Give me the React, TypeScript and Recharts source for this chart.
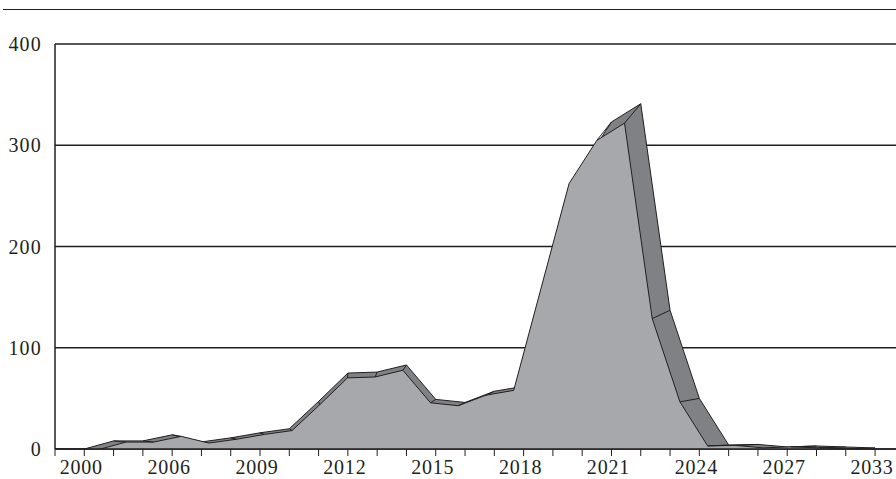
import React from 'react';
import { ComposedChart, Area, XAxis, YAxis, CartesianGrid } from 'recharts';

// categories (only every third one carries a label on the axis)
const years = [
  '1999', '2000', '2002', '2004', '2006', '2007', '2008', '2009', '2010', '2011',
  '2012', '2013', '2014', '2015', '2016', '2017', '2018', '2019', '2020', '2021',
  '2022', '2023', '2024', '2025', '2026', '2027', '2029', '2031', '2033',
];
const counts = [
  0, 0, 8, 8, 14, 7, 11, 16, 20, 47,
  75, 76, 83, 49, 46, 57, 62, 170, 278, 323,
  341, 137, 50, 4, 4.5, 2, 3, 2, 1,
];
const yTicks = [0, 100, 200, 300, 400];

const INK = '#231F20';
const FRONT = '#A7A8AB';
const TOP = '#808184';
const FONT = '"Liberation Serif", "Times New Roman", serif';

const W = 919;
const H = 479;
const PLOT = { left: 55, top: 44, width: 864, height: 405 };
const X_MAX = 29.5;
const Y_MAX = 400;

// 3D look: the front face is the back face shrunk toward a vanishing point
const DEPTH = { s: 0.946, vx: 340, vy: 463 };

const bottom = PLOT.top + PLOT.height;
const fx0 = ((1 - DEPTH.s) * (PLOT.left - DEPTH.vx) * X_MAX) / (DEPTH.s * PLOT.width);
const frontX: [number, number] = [fx0, fx0 + X_MAX / DEPTH.s];
const fy0 = ((DEPTH.vy - bottom) * (1 - DEPTH.s)) / ((DEPTH.s * PLOT.height) / Y_MAX);
const frontY: [number, number] = [fy0, fy0 + Y_MAX / DEPTH.s];

const data = years.map((year, i) => ({ idx: i, year, count: counts[i] }));

// front edge height at a (fractional) category position, in front-axis units
const frontEdge = (u: number) => {
  if (u < 0 || u > counts.length - 1) return -Infinity;
  const k = Math.min(Math.floor(u), counts.length - 2);
  const t = u - k;
  return counts[k] + (counts[k + 1] - counts[k]) * t;
};

// a depth edge only shows when its back end sticks out above the front face
const edgeShows = counts.map((v, i) => {
  const u = frontX[0] + i / DEPTH.s;
  const w = frontY[0] + v / DEPTH.s;
  return w > frontEdge(u) + 0.3;
});

const Connector = (props: any) => {
  const { cx, cy, index } = props;
  if (cx == null || cy == null || !edgeShows[index]) return <g key={`c-${index}`} />;
  const x2 = DEPTH.vx + DEPTH.s * (cx - DEPTH.vx);
  const y2 = DEPTH.vy + DEPTH.s * (cy - DEPTH.vy);
  return <line key={`c-${index}`} x1={cx} y1={cy} x2={x2} y2={y2} stroke={INK} strokeWidth={1} />;
};

export default function App() {
  return (
    <div
      style={{
        position: 'fixed',
        left: 0,
        top: 0,
        width: 896,
        height: 479,
        overflow: 'hidden',
        background: '#fff',
      }}
    >
      <div
        style={{
          position: 'absolute',
          left: 3,
          top: 9,
          width: 893,
          borderTop: `1.5px solid ${INK}`,
        }}
      />
      <ComposedChart
        width={W}
        height={H}
        data={data}
        margin={{ top: PLOT.top, right: 0, bottom: 0, left: 0 }}
      >
        <CartesianGrid vertical={false} stroke={INK} strokeWidth={1.4} />
        <XAxis
          dataKey="idx"
          type="number"
          domain={[0, X_MAX]}
          ticks={years.map((_, i) => i)}
          interval={0}
          tickFormatter={(v: number) => (v % 3 === 1 ? years[v] : '')}
          height={30}
          tickSize={7}
          tickMargin={4}
          axisLine={{ stroke: INK, strokeWidth: 1.5 }}
          tickLine={{ stroke: INK, strokeWidth: 1 }}
          tick={{ fill: INK, fontSize: 20, fontFamily: FONT, letterSpacing: 0.8, dx: -3 }}
          allowDataOverflow
        />
        <XAxis xAxisId="front" dataKey="idx" type="number" domain={frontX} hide allowDataOverflow />
        <YAxis
          domain={[0, Y_MAX]}
          ticks={yTicks}
          width={PLOT.left}
          tickSize={0}
          tickMargin={13}
          axisLine={{ stroke: INK, strokeWidth: 1.5 }}
          tickLine={false}
          tick={{ fill: INK, fontSize: 20, fontFamily: FONT, letterSpacing: 1.2 }}
          allowDataOverflow
        />
        <YAxis yAxisId="front" domain={frontY} hide allowDataOverflow />

        {/* back edge + top/side faces */}
        <Area
          type="linear"
          dataKey="count"
          fill={TOP}
          fillOpacity={1}
          stroke={INK}
          strokeWidth={1}
          dot={Connector}
          activeDot={false}
          isAnimationActive={false}
        />
        {/* front face */}
        <Area
          type="linear"
          dataKey="count"
          xAxisId="front"
          yAxisId="front"
          fill={FRONT}
          fillOpacity={1}
          stroke={INK}
          strokeWidth={1}
          dot={false}
          activeDot={false}
          isAnimationActive={false}
        />
      </ComposedChart>
    </div>
  );
}
